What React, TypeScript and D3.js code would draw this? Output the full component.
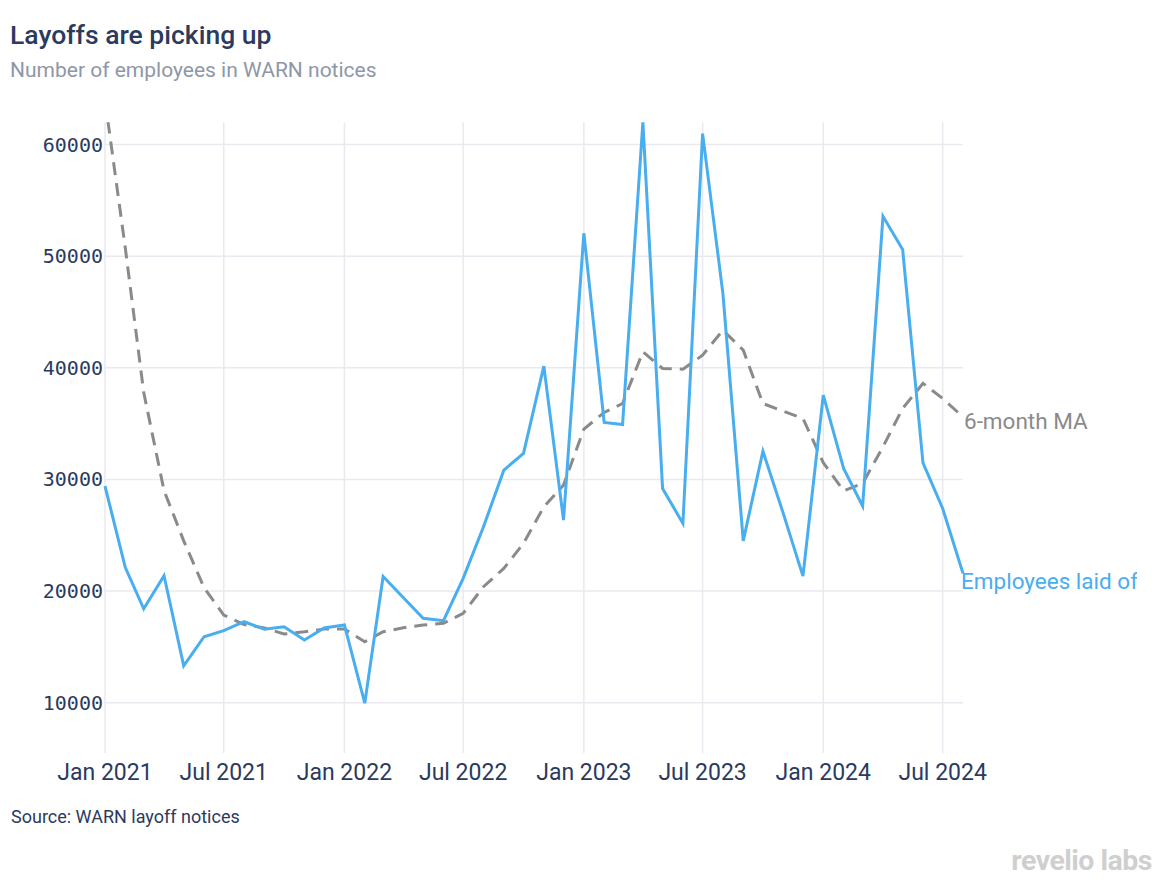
import React from "react";
import * as d3 from "d3";

const months: string[] = [
  "2021-01","2021-02","2021-03","2021-04","2021-05","2021-06","2021-07","2021-08","2021-09","2021-10","2021-11","2021-12",
  "2022-01","2022-02","2022-03","2022-04","2022-05","2022-06","2022-07","2022-08","2022-09","2022-10","2022-11","2022-12",
  "2023-01","2023-02","2023-03","2023-04","2023-05","2023-06","2023-07","2023-08","2023-09","2023-10","2023-11","2023-12",
  "2024-01","2024-02","2024-03","2024-04","2024-05","2024-06","2024-07","2024-08",
];

const employeesLaidOff: number[] = [
  29400, 22100, 18400, 21370, 13290, 15910, 16450, 17250, 16570, 16800, 15610, 16690,
  16960, 9950, 21300, 19400, 17560, 17340, 21140, 25760, 30830, 32330, 40150, 26360,
  52050, 35100, 34920, 62000, 29190, 26060, 60980, 46650, 24500, 32530, 26960, 21340,
  37550, 30980, 27610, 53570, 50600, 31490, 27400, 21580,
];

const movingAverage6: number[] = [
  64000, 50700, 37800, 29000, 24500, 20300, 17850, 17000, 16700, 16150, 16350, 16600,
  16600, 15460, 16360, 16710, 16960, 17110, 18000, 20390, 22030, 24270, 27550, 29490,
  34500, 36000, 36800, 41430, 39940, 39870, 41130, 43370, 41580, 36800, 36110, 35460,
  31500, 28980, 29640, 32920, 36360, 38600, 37250, 35600,
];

const yTicks: number[] = [10000, 20000, 30000, 40000, 50000, 60000];
const xTickLabels: string[] = ["Jan 2021","Jul 2021","Jan 2022","Jul 2022","Jan 2023","Jul 2023","Jan 2024","Jul 2024"];
const xTickDates: string[] = ["2021-01","2021-07","2022-01","2022-07","2023-01","2023-07","2024-01","2024-07"];

const title = "Layoffs are picking up";
const subtitle = "Number of employees in WARN notices";
const source = "Source: WARN layoff notices";
const seriesLabel = "Employees laid off";
const maLabel = "6-month MA";

const parse = d3.timeParse("%Y-%m");

export default function App() {
  const W = 1170, H = 891;
  const left = 105, right = 963, top = 122.2, bottom = 752.9;
  const dates = months.map((m) => parse(m) as Date);
  const x = d3.scaleTime().domain([dates[0], dates[dates.length - 1]]).range([left, right]);
  const y = d3.scaleLinear().domain([5500, 62000]).range([bottom, top]);

  const line = d3.line<number>().x((_, i) => x(dates[i])).y((v) => y(v));
  const blue = "#48aef0";
  const gray = "#8a8a8a";
  const navy = "#2b3a5e";
  const grid = "#e9e9ef";

  const lastI = dates.length - 1;
  const ex = x(dates[lastI]);

  return (
    <svg width={W} height={H} style={{ position: "absolute", left: 0, top: 0, background: "#fff" }}>
      <defs>
        <clipPath id="plot">
          <rect x={left - 2} y={top} width={right - left + 4} height={bottom - top} />
        </clipPath>
        <clipPath id="lab">
          <rect x={0} y={0} width={1137} height={H} />
        </clipPath>
      </defs>
      <text x={10} y={44} fontFamily="Roboto" fontWeight={500} fontSize={26.5} fill={navy}>{title}</text>
      <text x={10} y={77} fontFamily="Roboto" fontSize={21} fill="#8d97a7">{subtitle}</text>

      {xTickDates.map((d) => {
        const xx = x(parse(d) as Date);
        return <line key={d} x1={xx} x2={xx} y1={top} y2={bottom} stroke={grid} strokeWidth={1.5} />;
      })}
      {yTicks.map((t) => (
        <g key={t}>
          <line x1={left} x2={right} y1={y(t)} y2={y(t)} stroke={grid} strokeWidth={1.5} />
          <text x={103} y={y(t)} dominantBaseline="central" textAnchor="end" fontFamily="DejaVu Sans Mono" fontSize={20} fill={navy}>{t}</text>
        </g>
      ))}
      {xTickDates.map((d, i) => (
        <text key={d} x={x(parse(d) as Date)} y={772} dominantBaseline="central" textAnchor="middle" fontFamily="Roboto" fontSize={23} fill={navy}>{xTickLabels[i]}</text>
      ))}

      <g clipPath="url(#plot)">
        <path d={line(movingAverage6) || ""} fill="none" stroke={gray} strokeWidth={3} strokeDasharray="13,8" />
        <path d={line(employeesLaidOff) || ""} fill="none" stroke={blue} strokeWidth={3} strokeLinejoin="miter" />
      </g>

      <text x={ex + 1} y={y(movingAverage6[lastI]) + 4} dominantBaseline="central" fontFamily="Roboto" fontSize={22.5} fill={gray}>{maLabel}</text>
      <g clipPath="url(#lab)">
        <text x={ex - 2} y={y(employeesLaidOff[lastI]) + 8} dominantBaseline="central" fontFamily="Roboto" fontSize={22.5} fill={blue}>{seriesLabel}</text>
      </g>

      <text x={11} y={816} dominantBaseline="central" fontFamily="Roboto" fontSize={18} fill={navy}>{source}</text>
      <text x={1152} y={870} textAnchor="end" fontFamily="Roboto" fontWeight={700} fontSize={28.5} fill="#cfcfcf" letterSpacing={-0.5}>revelio labs</text>
    </svg>
  );
}
